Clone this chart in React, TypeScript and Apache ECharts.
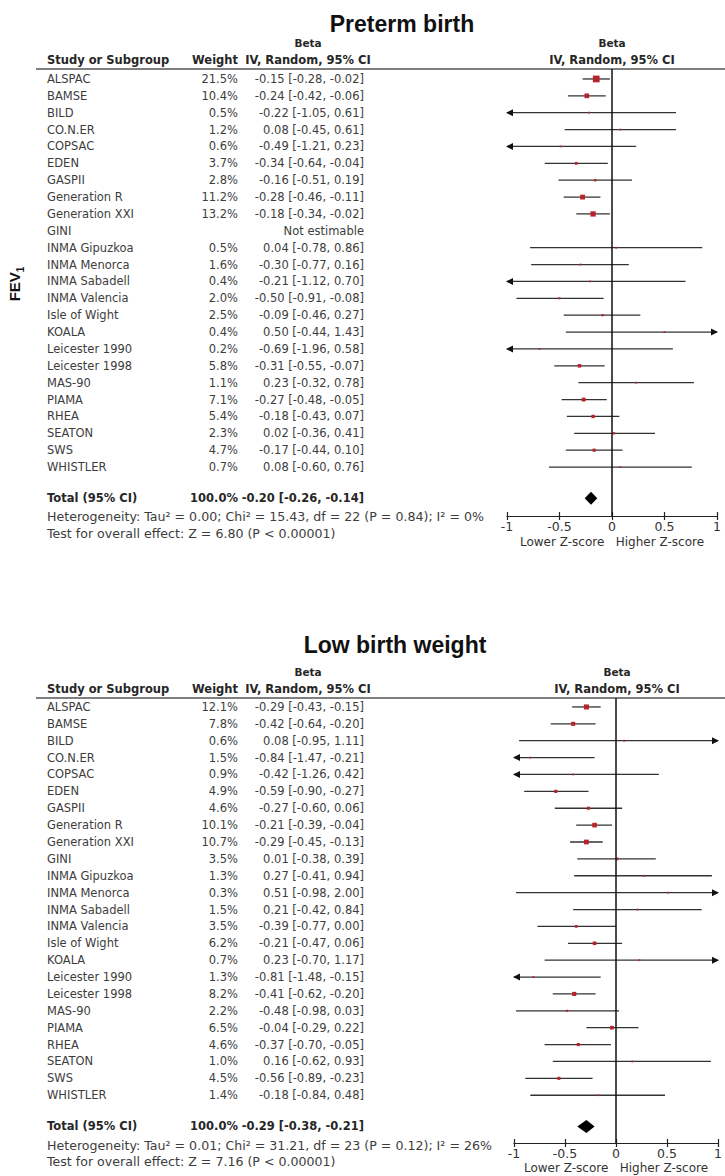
import React, { useEffect, useRef } from "react";
import * as echarts from "echarts";

const studies = [
  "ALSPAC", "BAMSE", "BILD", "CO.N.ER", "COPSAC", "EDEN", "GASPII", "Generation R",
  "Generation XXI", "GINI", "INMA Gipuzkoa", "INMA Menorca", "INMA Sabadell", "INMA Valencia",
  "Isle of Wight", "KOALA", "Leicester 1990", "Leicester 1998", "MAS-90", "PIAMA", "RHEA",
  "SEATON", "SWS", "WHISTLER",
];

// Preterm birth
const ptWeight = [21.5, 10.4, 0.5, 1.2, 0.6, 3.7, 2.8, 11.2, 13.2, null, 0.5, 1.6, 0.4, 2.0, 2.5, 0.4, 0.2, 5.8, 1.1, 7.1, 5.4, 2.3, 4.7, 0.7];
const ptBeta = [-0.15, -0.24, -0.22, 0.08, -0.49, -0.34, -0.16, -0.28, -0.18, null, 0.04, -0.30, -0.21, -0.50, -0.09, 0.50, -0.69, -0.31, 0.23, -0.27, -0.18, 0.02, -0.17, 0.08];
const ptLow = [-0.28, -0.42, -1.05, -0.45, -1.21, -0.64, -0.51, -0.46, -0.34, null, -0.78, -0.77, -1.12, -0.91, -0.46, -0.44, -1.96, -0.55, -0.32, -0.48, -0.43, -0.36, -0.44, -0.60];
const ptHigh = [-0.02, -0.06, 0.61, 0.61, 0.23, -0.04, 0.19, -0.11, -0.02, null, 0.86, 0.16, 0.70, -0.08, 0.27, 1.43, 0.58, -0.07, 0.78, -0.05, 0.07, 0.41, 0.10, 0.76];
const ptTotal = [-0.20, -0.26, -0.14];
const ptHet = "Heterogeneity: Tau² = 0.00; Chi² = 15.43, df = 22 (P = 0.84); I² = 0%";
const ptTest = "Test for overall effect: Z = 6.80 (P < 0.00001)";

// Low birth weight
const lbWeight = [12.1, 7.8, 0.6, 1.5, 0.9, 4.9, 4.6, 10.1, 10.7, 3.5, 1.3, 0.3, 1.5, 3.5, 6.2, 0.7, 1.3, 8.2, 2.2, 6.5, 4.6, 1.0, 4.5, 1.4];
const lbBeta = [-0.29, -0.42, 0.08, -0.84, -0.42, -0.59, -0.27, -0.21, -0.29, 0.01, 0.27, 0.51, 0.21, -0.39, -0.21, 0.23, -0.81, -0.41, -0.48, -0.04, -0.37, 0.16, -0.56, -0.18];
const lbLow = [-0.43, -0.64, -0.95, -1.47, -1.26, -0.90, -0.60, -0.39, -0.45, -0.38, -0.41, -0.98, -0.42, -0.77, -0.47, -0.70, -1.48, -0.62, -0.98, -0.29, -0.70, -0.62, -0.89, -0.84];
const lbHigh = [-0.15, -0.20, 1.11, -0.21, 0.42, -0.27, 0.06, -0.04, -0.13, 0.39, 0.94, 2.00, 0.84, 0.00, 0.06, 1.17, -0.15, -0.20, 0.03, 0.22, -0.05, 0.93, -0.23, 0.48];
const lbTotal = [-0.29, -0.38, -0.21];
const lbHet = "Heterogeneity: Tau² = 0.01; Chi² = 31.21, df = 23 (P = 0.12); I² = 26%";
const lbTest = "Test for overall effect: Z = 7.16 (P < 0.00001)";

const xTicks = [-1, -0.5, 0, 0.5, 1];

const TF = "DejaVu Sans";
const ROW_COLOR = "#3d3d3d";
const HEAD_COLOR = "#262626";
const ROW_SIZE = 11.5;
const NOTE_SIZE = 12.6;

const fmt = (v: number) => v.toFixed(2);
const ciText = (b: number, l: number, h: number) => `${fmt(b)} [${fmt(l)}, ${fmt(h)}]`;

function txt(x: number, y: number, text: string, align: string, bold = false, color = ROW_COLOR, size = ROW_SIZE) {
  return {
    type: "text",
    x,
    y,
    style: {
      text,
      fill: color,
      fontFamily: TF,
      fontSize: size,
      fontWeight: bold ? "bold" : "normal",
      align,
      verticalAlign: "middle",
    },
  };
}

function panelSeries(
  g: number,
  weights: (number | null)[],
  betas: (number | null)[],
  lows: (number | null)[],
  highs: (number | null)[],
  total: number[],
  het: string,
  test: string,
) {
  const plotData: number[][] = [];
  betas.forEach((b, k) => {
    if (b !== null) plotData.push([k, b, lows[k] as number, highs[k] as number, weights[k] as number]);
  });
  const tableData = studies.map((_, k) => [0, k]);
  const NAME_X = 47;
  const W_R = 238;
  const E_R = 364;

  return [
    {
      type: "custom",
      xAxisIndex: g,
      yAxisIndex: g,
      clip: false,
      silent: true,
      data: tableData,
      encode: { x: 0, y: 1 },
      renderItem: (params: any, api: any) => {
        const k = params.dataIndex;
        const y = api.coord([0, k])[1];
        const children: any[] = [txt(NAME_X, y, studies[k], "left")];
        if (betas[k] === null) {
          children.push(txt(E_R, y, "Not estimable", "right"));
        } else {
          children.push(txt(W_R, y, `${(weights[k] as number).toFixed(1)}%`, "right"));
          children.push(txt(E_R, y, ciText(betas[k] as number, lows[k] as number, highs[k] as number), "right"));
        }
        return { type: "group", children };
      },
    },
    {
      type: "custom",
      xAxisIndex: g,
      yAxisIndex: g,
      clip: false,
      silent: true,
      data: plotData,
      encode: { x: 1, y: 0 },
      renderItem: (params: any, api: any) => {
        const i = api.value(0);
        const b = api.value(1);
        const lo = api.value(2);
        const hi = api.value(3);
        const w = api.value(4);
        const y = api.coord([0, i])[1];
        const xl = api.coord([Math.max(lo, -1), i])[0];
        const xh = api.coord([Math.min(hi, 1), i])[0];
        const xb = api.coord([b, i])[0];
        const children: any[] = [
          { type: "line", shape: { x1: xl, y1: y, x2: xh, y2: y }, style: { stroke: "#333", lineWidth: 1.3 } },
        ];
        if (lo < -1) {
          children.push({ type: "polygon", shape: { points: [[xl - 1, y], [xl + 6, y - 3.5], [xl + 6, y + 3.5]] }, style: { fill: "#111" } });
        }
        if (hi > 1) {
          children.push({ type: "polygon", shape: { points: [[xh + 1, y], [xh - 6, y - 3.5], [xh - 6, y + 3.5]] }, style: { fill: "#111" } });
        }
        const s = Math.max(1.8, 1.45 * Math.sqrt(w));
        children.push({ type: "rect", shape: { x: xb - s / 2, y: y - s / 2, width: s, height: s }, style: { fill: "#b8232b" } });
        return { type: "group", children };
      },
      markLine: {
        silent: true,
        symbol: "none",
        label: { show: false },
        lineStyle: { color: "#111", width: 1.5, type: "solid" },
        data: [{ xAxis: 0 }],
      },
    },
    {
      type: "custom",
      xAxisIndex: g,
      yAxisIndex: g,
      clip: false,
      silent: true,
      data: [[24.85, total[0], total[1], total[2]]],
      encode: { x: 1, y: 0 },
      renderItem: (params: any, api: any) => {
        const i = api.value(0);
        const b = api.value(1);
        const lo = api.value(2);
        const hi = api.value(3);
        const y = api.coord([0, i])[1];
        const xl = api.coord([lo, i])[0];
        const xh = api.coord([hi, i])[0];
        const xb = api.coord([b, i])[0];
        const yHet = api.coord([0, i + 1.1])[1];
        const yTest = api.coord([0, i + 2.07])[1];
        return {
          type: "group",
          children: [
            { type: "polygon", shape: { points: [[xl, y], [xb, y - 6.5], [xh, y], [xb, y + 6.5]] }, style: { fill: "#000" } },
            txt(NAME_X, y, "Total (95% CI)", "left", true, HEAD_COLOR),
            txt(W_R, y, "100.0%", "right", true, HEAD_COLOR),
            txt(E_R, y, ciText(b, lo, hi), "right", true, HEAD_COLOR),
            txt(NAME_X, yHet, het, "left", false, ROW_COLOR, NOTE_SIZE),
            txt(NAME_X, yTest, test, "left", false, ROW_COLOR, NOTE_SIZE),
          ],
        };
      },
    },
  ];
}

function xAxisCfg(g: number, nameGap: number) {
  return {
    type: "value",
    gridIndex: g,
    min: -1,
    max: 1,
    interval: 0.5,
    position: "bottom",
    splitLine: { show: false },
    axisLine: { show: true, onZero: false, lineStyle: { color: "#222", width: 1.2 } },
    axisTick: { show: true, length: 4, lineStyle: { color: "#222", width: 1.2 } },
    axisLabel: {
      color: "#333",
      fontFamily: TF,
      fontSize: 12.5,
      margin: 4,
      formatter: (v: number) => String(v),
    },
    name: "Lower Z-score   Higher Z-score",
    nameLocation: "middle",
    nameGap,
    nameTextStyle: { color: "#333", fontFamily: TF, fontSize: 12 },
  };
}

// companion axis drawing the upward half of each tick
function xTickUpCfg(g: number) {
  return {
    type: "value",
    gridIndex: g,
    min: -1,
    max: 1,
    interval: 0.5,
    position: "bottom",
    offset: 0,
    splitLine: { show: false },
    axisLine: { show: false, onZero: false },
    axisTick: { show: true, inside: true, length: 4, lineStyle: { color: "#222", width: 1.2 } },
    axisLabel: { show: false },
  };
}

function yAxisCfg(g: number, min: number, max: number) {
  return { type: "value", gridIndex: g, inverse: true, min, max, show: false };
}

function headerGraphics(titleText: string, titleX: number, titleY: number, betaY: number, headY: number, lineY: number, rightX: number) {
  const bold = (x: number, y: number, text: string, align: string, size = ROW_SIZE) => ({
    type: "text",
    x,
    y,
    style: { text, fill: HEAD_COLOR, fontFamily: TF, fontSize: size, fontWeight: "bold", align, verticalAlign: "middle" },
  });
  return [
    {
      type: "text",
      x: titleX,
      y: titleY,
      style: { text: titleText, fill: "#111", fontFamily: "Liberation Sans", fontSize: 23, fontWeight: "bold", align: "center", verticalAlign: "middle" },
    },
    bold(308, betaY, "Beta", "center", 10.5),
    bold(rightX, betaY, "Beta", "center", 10.5),
    bold(47, headY, "Study or Subgroup", "left"),
    bold(238, headY, "Weight", "right"),
    bold(308, headY, "IV, Random, 95% CI", "center"),
    bold(rightX, headY, "IV, Random, 95% CI", "center"),
    { type: "line", shape: { x1: 36, y1: lineY, x2: 725, y2: lineY }, style: { stroke: "#555", lineWidth: 1.5 } },
  ];
}

export default function App() {
  const ref = useRef<HTMLDivElement>(null);
  useEffect(() => {
    document.body.style.margin = "0";
    if (!ref.current) return;
    const chart = echarts.init(ref.current, undefined, { renderer: "svg" });
    const option: any = {
      animation: false,
      backgroundColor: "#fff",
      grid: [
        { left: 507, top: 69, width: 210, height: 447 },
        { left: 514, top: 698, width: 206, height: 445 },
      ],
      xAxis: [xAxisCfg(0, 20), xAxisCfg(1, 19), xTickUpCfg(0), xTickUpCfg(1)],
      yAxis: [yAxisCfg(0, -0.59, 25.9), yAxisCfg(1, -0.53, 25.83)],
      series: [
        ...panelSeries(0, ptWeight, ptBeta, ptLow, ptHigh, ptTotal, ptHet, ptTest),
        ...panelSeries(1, lbWeight, lbBeta, lbLow, lbHigh, lbTotal, lbHet, lbTest),
      ],
      graphic: [
        ...headerGraphics("Preterm birth", 402, 24, 43, 60, 69, 612),
        ...headerGraphics("Low birth weight", 395, 645, 672, 689, 698, 617),
        {
          type: "text",
          x: 16,
          y: 284,
          rotation: Math.PI / 2,
          style: {
            text: "{a|FEV}{b|1}",
            align: "center",
            verticalAlign: "middle",
            rich: {
              a: { fontFamily: "Liberation Sans", fontSize: 15, fontWeight: "bold", fill: "#111", color: "#111", padding: [0, 0, 4, 0] },
              b: { fontFamily: "Liberation Sans", fontSize: 10, fontWeight: "bold", fill: "#111", color: "#111", verticalAlign: "bottom" },
            },
          },
        },
      ],
    };
    chart.setOption(option);
    return () => chart.dispose();
  }, []);
  return <div ref={ref} style={{ width: 725, height: 1176 }} />;
}
